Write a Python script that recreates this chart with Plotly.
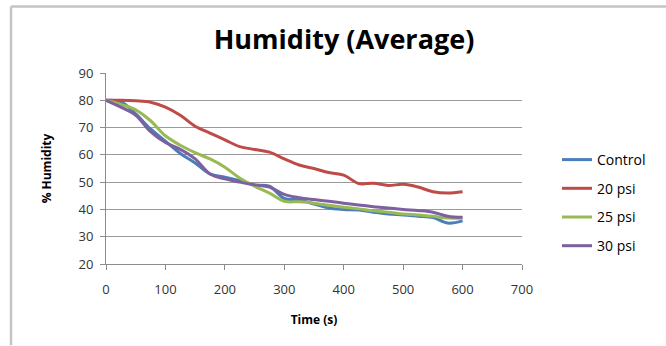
import plotly.graph_objects as go

time_s = [0, 25, 50, 75, 100, 125, 150, 175, 200, 225, 250, 275, 300,
          325, 350, 375, 400, 425, 450, 475, 500, 525, 550, 575, 600]
control = [80, 79.5, 75, 69.5, 65, 60.5, 57, 53, 51.8, 50.5, 49, 48.5, 44,
           43.5, 42, 40.5, 40, 39.8, 39, 38.3, 38, 37.5, 37, 35, 35.8]
psi20 = [80, 80, 79.8, 79.3, 77.5, 74.5, 70.5, 68, 65.5, 63, 62, 61, 58.5,
         56.3, 55, 53.5, 52.6, 49.5, 49.6, 48.8, 49.2, 48.2, 46.5, 46, 46.5]
psi25 = [80, 78.5, 76.5, 72.5, 67, 63.5, 60.8, 58.5, 55.5, 51.5, 48.5, 46, 43,
         42.8, 42.3, 41.5, 40.8, 40.2, 39.5, 39, 38.3, 38, 37.5, 36.9, 36.8]
psi30 = [80, 77.5, 74.5, 68.5, 64.5, 62, 58.5, 53, 51.2, 50, 49, 48.2, 45.5,
         44.3, 43.6, 43, 42.3, 41.6, 41, 40.5, 40, 39.6, 39, 37.5, 37.1]

series_names = ["Control", "20 psi", "25 psi", "30 psi"]
series_values = [control, psi20, psi25, psi30]
colors = ["#4a7ebb", "#be4b48", "#98b954", "#7d60a0"]

x_ticks = [0, 100, 200, 300, 400, 500, 600, 700]
y_ticks = [20, 30, 40, 50, 60, 70, 80, 90]

fig = go.Figure()
for name, vals, col in zip(series_names, series_values, colors):
    fig.add_trace(go.Scatter(
        x=time_s, y=vals, name=name, mode="lines", legendgroup=name,
        line=dict(color=col, width=3, shape="spline", smoothing=1.0),
    ))

L, R, T, B = 106, 144, 72.7, 81.5
W, H = 666, 346
pw, ph = W - L - R, H - T - B

fig.update_layout(
    width=W, height=H,
    margin=dict(l=L, r=R, t=T, b=B, pad=0),
    paper_bgcolor="white", plot_bgcolor="white",
    font=dict(family="Open Sans, Lato, sans-serif", color="#333333", size=13),
    title=dict(text="<b>Humidity (Average)</b>", x=(344 - L) / pw, xref="paper",
               xanchor="center", y=1 - 40 / H, yanchor="middle",
               font=dict(size=27, color="#000000", family="Open Sans, sans-serif")),
    showlegend=True,
    legend=dict(x=(557 - L) / pw, xanchor="left", y=(H - B - 144) / ph, yanchor="top",
                xref="paper", yref="paper",
                font=dict(size=14, color="#000000"),
                tracegroupgap=7.5, bgcolor="rgba(0,0,0,0)", itemwidth=30),
    xaxis=dict(range=[0, 700], tickvals=x_ticks, showgrid=False,
               showline=True, linecolor="#8c8c8c", linewidth=1,
               ticks="outside", ticklen=5, tickcolor="#8c8c8c",
               ticklabelstandoff=8,
               zeroline=False, tickfont=dict(size=13, color="#333333"),
               title=dict(text="<b>Time (s)</b>", standoff=19,
                          font=dict(size=12, color="#000000"))),
    yaxis=dict(range=[20, 90], tickvals=y_ticks, showgrid=True,
               gridcolor="#9a9a9a", gridwidth=1,
               showline=True, linecolor="#8c8c8c", linewidth=1,
               ticks="outside", ticklen=5, tickcolor="#8c8c8c",
               ticklabelstandoff=4,
               zeroline=False, tickfont=dict(size=13, color="#333333"),
               title=dict(text="<b>% Humidity</b>", standoff=24,
                          font=dict(size=12, color="#000000"))),
)

# chart-area border (top and left edges visible in the crop)
bx = (11 - L) / pw
by = (H - B - 6) / ph
fig.add_shape(type="line", xref="paper", yref="paper", x0=bx, x1=(W - L) / pw,
              y0=by, y1=by, line=dict(color="#c4c4c4", width=2.5), layer="below")
fig.add_shape(type="line", xref="paper", yref="paper", x0=bx, x1=bx,
              y0=by, y1=-B / ph, line=dict(color="#c4c4c4", width=2.5), layer="below")

fig.write_html("out.html")
